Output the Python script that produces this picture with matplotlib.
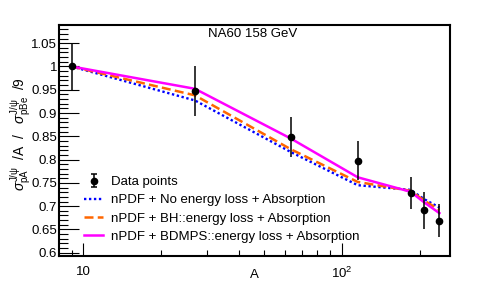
import numpy as np
import matplotlib
matplotlib.use("Agg")
import matplotlib.pyplot as plt
from matplotlib.ticker import FixedLocator, NullFormatter

plt.rcParams['font.family'] = ['Liberation Sans', 'DejaVu Sans']
plt.rcParams['mathtext.fontset'] = 'custom'
plt.rcParams['mathtext.rm'] = 'Liberation Sans'
plt.rcParams['mathtext.it'] = 'Liberation Sans:italic'
plt.rcParams['mathtext.sf'] = 'Liberation Sans'

# Data
A_data = [9, 27, 63.5, 115, 184, 208, 238]
ratio_data = [1.0, 0.947, 0.849, 0.798, 0.728, 0.691, 0.669]
ratio_err = [0.05, 0.054, 0.043, 0.042, 0.035, 0.04, 0.035]

A_model = [9, 27, 63.5, 115, 184, 208, 238]
no_eloss = [1.0, 0.927, 0.816, 0.745, 0.735, 0.715, 0.697]
bh_eloss = [1.0, 0.938, 0.822, 0.752, 0.733, 0.712, 0.692]
bdmps_eloss = [1.0, 0.952, 0.845, 0.762, 0.731, 0.708, 0.685]

labels = ["Data points",
          "nPDF + No energy loss + Absorption",
          "nPDF + BH::energy loss + Absorption",
          "nPDF + BDMPS::energy loss + Absorption"]

yticks = [0.6, 0.65, 0.7, 0.75, 0.8, 0.85, 0.9, 0.95, 1.0, 1.05]
ytick_labels = ["0.6", "0.65", "0.7", "0.75", "0.8", "0.85", "0.9", "0.95", "1", "1.05"]
xticks = [10, 100]
xtick_labels = ["10", r"$10^{2}$"]
xminor = [9, 20, 30, 40, 50, 60, 70, 80, 90, 200]

FS = 9.5

fig = plt.figure(figsize=(4.88, 2.88), dpi=100)
ax = fig.add_axes([59.3/488, 1-256/288, (450-59.3)/488, (256-25)/288])

ax.plot(A_model, no_eloss, color='#0000ff', lw=1.7, linestyle=(0, (1, 1.1)),
        label=labels[1], zorder=3)
ax.plot(A_model, bh_eloss, color='#ff6600', lw=1.8, linestyle=(0, (3.6, 1.7)),
        label=labels[2], zorder=3)
ax.plot(A_model, bdmps_eloss, color='#ff00ff', lw=1.8, linestyle='-',
        label=labels[3], zorder=3)
ax.errorbar(A_data, ratio_data, yerr=ratio_err, fmt='o', color='black',
            ms=4.5, elinewidth=1.1, capsize=0, zorder=4)
leg_data = ax.errorbar([np.nan], [np.nan], yerr=[0.1], fmt='o', color='black',
                       ms=4.5, elinewidth=1.1, capsize=2, capthick=1.1)

ax.set_xscale('log')
ax.set_xlim(8.07, 261.5)
ax.set_ylim(0.593, 1.089)

ax.xaxis.set_major_locator(FixedLocator(xticks))
ax.set_xticklabels(xtick_labels)
ax.xaxis.set_minor_locator(FixedLocator(xminor))
ax.xaxis.set_minor_formatter(NullFormatter())
ax.yaxis.set_major_locator(FixedLocator(yticks))
ax.set_yticklabels(ytick_labels)
ax.yaxis.set_minor_locator(FixedLocator(np.round(np.arange(0.60, 1.09, 0.01), 3)))

ax.tick_params(axis='y', which='major', direction='in', length=14.4, width=0.8,
               labelsize=FS, pad=1.5, right=False)
ax.tick_params(axis='y', which='minor', direction='in', length=6.8, width=0.8, right=False)
ax.tick_params(axis='x', which='major', direction='in', length=9.4, width=0.8,
               labelsize=FS, pad=7, top=False)
ax.tick_params(axis='x', which='minor', direction='in', length=4.5, width=0.8, top=False)
for s in ax.spines.values():
    s.set_linewidth(1.5)

fig.text(253/488, 1-34/288, "NA60 158 GeV", ha='center', va='center', fontsize=FS)
fig.text(254/488, 1-274.5/288, "A", ha='center', va='center', fontsize=FS)
fig.text(21/488, 1-134/288,
         r"$\sigma^{\mathrm{J/\psi}}_{\mathrm{pA}}\ \ $/A  /   $\sigma^{\mathrm{J/\psi}}_{\mathrm{pBe}}\ \ $/9",
         rotation=90, ha='center', va='center', fontsize=10)

handles, _ = ax.get_legend_handles_labels()
leg = ax.legend([leg_data] + handles[:3], labels, loc='upper left',
                bbox_to_anchor=(84/488, 1-176/288), bbox_transform=fig.transFigure,
                frameon=False, fontsize=FS, handlelength=1.44, handletextpad=0.6,
                labelspacing=0.45, borderpad=0, borderaxespad=0)

fig.savefig('out.png', dpi=100)
